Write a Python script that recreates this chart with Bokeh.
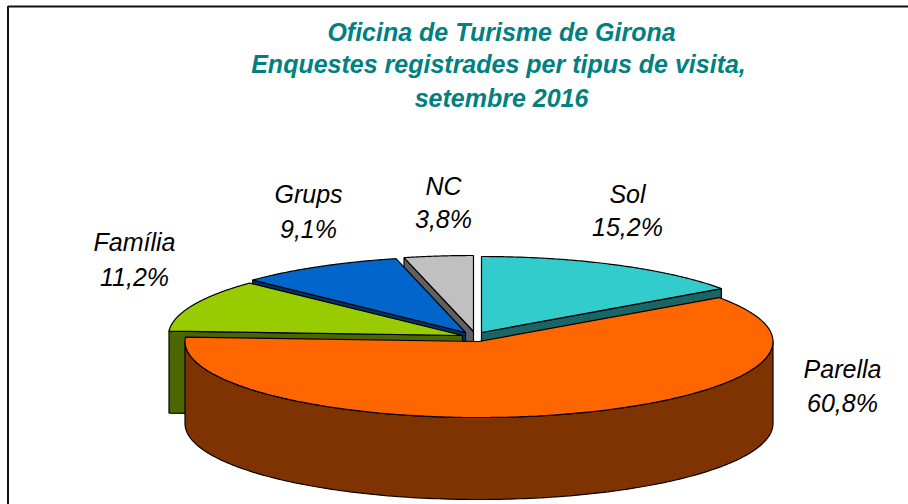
import numpy as np
from bokeh.plotting import figure
from bokeh.models import Range1d
from bokeh.core.properties import value
from bokeh.embed import file_html
from bokeh.resources import INLINE

title_lines = ["Oficina de Turisme de Girona",
               "Enquestes registrades per tipus de visita,",
               "setembre 2016"]
categories = ["Sol", "Parella", "Família", "Grups", "NC"]
percent = [15.2, 60.8, 11.2, 9.1, 3.8]

top_colors = {"Sol": "#33CCCC", "Parella": "#FF6600", "Família": "#99CC00", "Grups": "#0066CC", "NC": "#C0C0C0"}
side_colors = {"Sol": "#1A6666", "Parella": "#7F3300", "Família": "#4D6600", "Grups": "#003366", "NC": "#606060"}

# layout of the 3-D pie (page pixels)
RX, RY, DEPTH = 294.0, 76.0, 82.0
apex = {"Sol": (481, 332), "Parella": (478.5, 341), "Família": (462, 335), "Grups": (465, 332), "NC": (473, 331)}
label_xy = {"Sol": (627, 193, 226), "Parella": (842, 368, 402), "Família": (134, 241, 276),
            "Grups": (308, 193, 228), "NC": (443, 185, 218)}
draw_order = ["NC", "Grups", "Família", "Sol", "Parella"]

LINE = "#000000"
p = figure(width=908, height=504, output_backend="svg", toolbar_location=None,
           x_range=Range1d(0, 908), y_range=Range1d(504, 0),
           min_border=0, outline_line_color=None, background_fill_color="white",
           styles={"position": "absolute", "left": "0px", "top": "0px"})
p.axis.visible = False
p.grid.visible = False

# chart frame: top and left edges only
p.line([7.5, 7.5, 908], [504, 6, 6], line_color="#111111", line_width=2)

total = sum(percent)
start = 0.0
angles = {}
for c, v in zip(categories, percent):
    angles[c] = (start, start + v / total * 360.0)
    start = angles[c][1]

def pt(c, deg):
    ax, ay = apex[c]
    t = np.radians(deg)
    return ax + RX * np.sin(t), ay - RY * np.cos(t)

for c in draw_order:
    a0, a1 = angles[c]
    ax, ay = apex[c]
    if c == "Parella":
        # curved outer wall (front half only)
        th = np.linspace(90, 270, 181)
        xs, ys = pt(c, th)
        wx = np.concatenate([xs, xs[::-1]])
        wy = np.concatenate([ys, (ys + DEPTH)[::-1]])
        p.patch(wx, wy, fill_color=side_colors[c], line_color=LINE, line_width=1.2)
    else:
        # cut face at the slice's clockwise-start edge
        edge = a1 if c == "Sol" else a0
        ex, ey = pt(c, edge)
        p.patch([ax, ex, ex, ax], [ay, ey, ey + DEPTH, ay + DEPTH],
                fill_color=side_colors[c], line_color=LINE, line_width=1.2)
    th = np.linspace(a0, a1, 120)
    xs, ys = pt(c, th)
    p.patch(np.concatenate([[ax], xs]), np.concatenate([[ay], ys]),
            fill_color=top_colors[c], line_color=LINE, line_width=1.2)

font = value("Liberation Sans")
for c, v in zip(categories, percent):
    x, y1, y2 = label_xy[c]
    pct = f"{v:.1f}%".replace(".", ",")
    p.text([x, x], [y1, y2], text=[c, pct], text_font=font, text_font_size="25px",
           text_font_style="italic", text_align="center", text_baseline="middle", text_color="#000000")

p.text([501, 498, 501], [31, 63, 97], text=title_lines, text_font=font, text_font_size="25px",
       text_font_style="bold italic", text_align="center", text_baseline="middle", text_color="#008080")

open("out.html", "w").write(file_html(p, INLINE))
